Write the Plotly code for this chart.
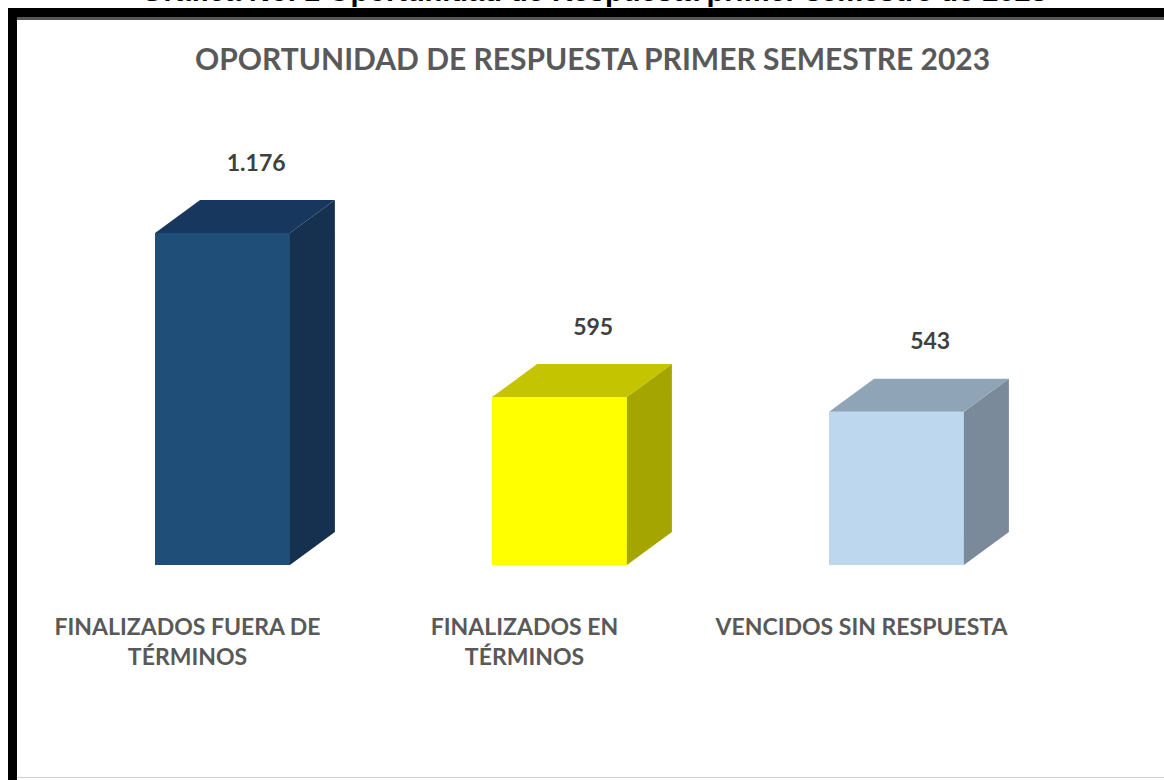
import plotly.graph_objects as go

# ---- data ----
categories = ["FINALIZADOS FUERA DE<br>TÉRMINOS", "FINALIZADOS EN<br>TÉRMINOS", "VENCIDOS SIN RESPUESTA"]
values = [1176, 595, 543]
value_labels = ["1.176", "595", "543"]
front_colors = ["#1F4E79", "#FFFF00", "#BDD7EE"]
top_colors = ["#17375E", "#C4C400", "#8FA4B6"]
side_colors = ["#15314F", "#A5A500", "#7A8A9A"]

chart_title = "OPORTUNIDAD DE RESPUESTA PRIMER SEMESTRE 2023"
page_title = "Gráfica No. 1 Oportunidad de Respuesta primer semestre de 2023"

# ---- geometry helpers ----
W, H = 1164, 780
L, R, T, B = 54, 99, 130, 215
plot_w = W - L - R
plot_h = H - T - B
x_range = [-0.5, 2.5]
y_max = 1541
px_x = plot_w / (x_range[1] - x_range[0])
px_y = plot_h / y_max
half = 0.2
depth_x = 45 / px_x
depth_y = 33 / px_y

xs = list(range(len(categories)))
fig = go.Figure()

fig.add_trace(go.Bar(x=xs, y=values, width=2 * half, marker=dict(color=front_colors, line=dict(width=0)),
                     hoverinfo="skip", showlegend=False))

for i, v in enumerate(values):
    xr = i + half
    xl = i - half
    fig.add_trace(go.Scatter(
        x=[xr, xr + depth_x, xr + depth_x, xr, xr],
        y=[0, depth_y, v + depth_y, v, 0],
        fill="toself", fillcolor=side_colors[i], mode="lines",
        line=dict(width=0, color=side_colors[i]), hoverinfo="skip", showlegend=False))
    fig.add_trace(go.Scatter(
        x=[xl, xr, xr + depth_x, xl + depth_x, xl],
        y=[v, v, v + depth_y, v + depth_y, v],
        fill="toself", fillcolor=top_colors[i], mode="lines",
        line=dict(width=0, color=top_colors[i]), hoverinfo="skip", showlegend=False))

# value labels
fig.add_trace(go.Scatter(
    x=[i + 0.1 for i in xs], y=[v + depth_y + 35 / px_y for v in values],
    mode="text", text=value_labels, textposition="middle center",
    textfont=dict(family="Lato", size=23, color="#404040", weight="bold"),
    hoverinfo="skip", showlegend=False, cliponaxis=False))

def pxx(X):
    return (X - L) / plot_w

def pxy(Y):
    return (H - B - Y) / plot_h

shapes = [
    dict(type="rect", xref="paper", yref="paper", x0=pxx(8), x1=pxx(1170), y0=pxy(18), y1=pxy(8),
         fillcolor="#000000", line=dict(width=0), layer="above"),
    dict(type="rect", xref="paper", yref="paper", x0=pxx(8), x1=pxx(1170), y0=pxy(20), y1=pxy(17),
         fillcolor="#555555", line=dict(width=0), layer="above"),
    dict(type="rect", xref="paper", yref="paper", x0=pxx(8), x1=pxx(17), y0=pxy(782), y1=pxy(8),
         fillcolor="#000000", line=dict(width=0), layer="above"),
    dict(type="line", xref="paper", yref="paper", x0=pxx(17), x1=pxx(1170), y0=pxy(777.5), y1=pxy(777.5),
         line=dict(color="#D0D0D0", width=1)),
]

annotations = [
    dict(text=chart_title, xref="paper", yref="paper", x=pxx(592), y=pxy(58),
         xanchor="center", yanchor="middle", showarrow=False,
         font=dict(family="Lato", size=30, color="#595959", weight="bold")),
    # page title above the chart, cropped at the top edge as in the source image
    dict(text=page_title, xref="paper", yref="paper", x=pxx(594), y=pxy(9),
         xanchor="center", yanchor="bottom", showarrow=False,
         font=dict(family="Liberation Sans", size=29, color="#000000", weight="bold")),
]

fig.update_layout(
    width=W, height=H,
    margin=dict(l=L, r=R, t=T, b=B, autoexpand=False),
    paper_bgcolor="white", plot_bgcolor="white",
    bargap=0,
    shapes=shapes, annotations=annotations,
    xaxis=dict(range=x_range, tickmode="array", tickvals=xs, ticktext=categories,
               showgrid=False, zeroline=False, showline=False, ticks="",
               ticklabelshift=-35, ticklabelstandoff=46,
               tickfont=dict(family="Lato", size=23, color="#595959", weight="bold"), fixedrange=True),
    yaxis=dict(range=[0, y_max], visible=False, showgrid=False, zeroline=False, fixedrange=True),
)

fig.write_html("out.html", config={"displayModeBar": False},
               post_script="document.body.style.margin='0px'; document.body.style.overflow='hidden';")
